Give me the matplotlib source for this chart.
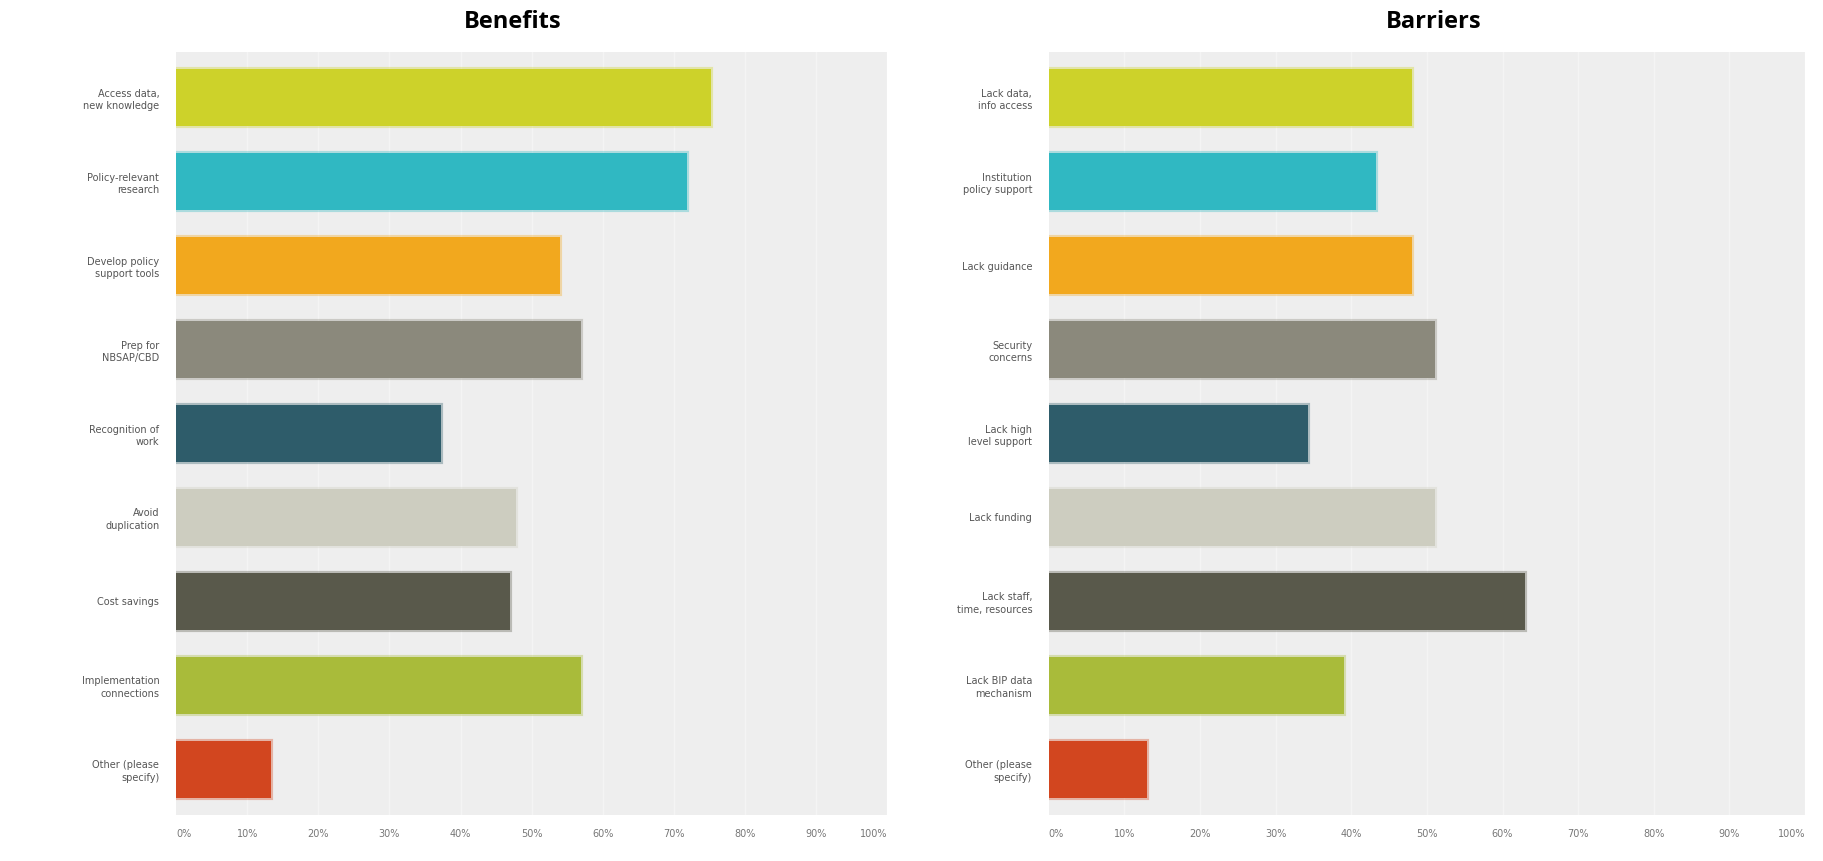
import numpy as np
import matplotlib
matplotlib.use("Agg")
import matplotlib.pyplot as plt

# values (percent of respondents)
benefit_labels = ["Access data,\nnew knowledge", "Policy-relevant\nresearch", "Develop policy\nsupport tools",
                  "Prep for\nNBSAP/CBD", "Recognition of\nwork", "Avoid\nduplication", "Cost savings",
                  "Implementation\nconnections", "Other (please\nspecify)"]
benefit_values = [75.2, 71.9, 54.0, 57.0, 37.3, 47.8, 46.9, 57.0, 13.3]

barrier_labels = ["Lack data,\ninfo access", "Institution\npolicy support", "Lack guidance",
                  "Security\nconcerns", "Lack high\nlevel support", "Lack funding",
                  "Lack staff,\ntime, resources", "Lack BIP data\nmechanism", "Other (please\nspecify)"]
barrier_values = [48.0, 43.3, 48.0, 51.1, 34.3, 51.1, 63.0, 39.1, 13.0]

bar_colors = ["#cdd22a", "#30b8c2", "#f2a81e", "#8b897c", "#2e5c6a",
              "#cdcdc0", "#59594b", "#a9bb3a", "#d2461f"]
tick_values = np.arange(0, 101, 10)
tick_labels = [f"{t}%" for t in tick_values]

fig = plt.figure(figsize=(18.24, 8.61), dpi=100)


def draw_panel(ax, labels, values, title, title_x):
    y = np.arange(len(values))
    ax.set_facecolor("#eeeeee")
    for t in tick_values[1:]:
        ax.axvline(t, color="#f4f4f4", lw=1.0, zorder=0)
    ax.barh(y, values, height=0.68, color=bar_colors, zorder=2,
            edgecolor=[matplotlib.colors.to_rgba(c, 0.35) for c in bar_colors], linewidth=3)
    ax.set_ylim(8.55, -0.55)
    ax.set_xlim(0, 99)
    ax.set_yticks(y)
    ax.set_yticklabels(labels, fontsize=7, color="#555555", linespacing=1.3)
    ax.set_xticks(tick_values)
    ax.set_xticklabels(tick_labels, fontsize=7, color="#777777")
    xl = ax.get_xticklabels()
    xl[0].set_ha("left")
    xl[-1].set_ha("right")
    ax.tick_params(length=0, pad=12)
    ax.tick_params(axis="x", pad=10)
    for s in ax.spines.values():
        s.set_visible(False)
    fig.text(title_x, 0.975, title, ha="center", va="center",
             fontsize=17, fontweight="bold", family="Open Sans")


ax1 = fig.add_axes([0.0965, 0.053, 0.39, 0.887])
draw_panel(ax1, benefit_labels, benefit_values, "Benefits", 0.281)

ax2 = fig.add_axes([0.575, 0.053, 0.4146, 0.887])
draw_panel(ax2, barrier_labels, barrier_values, "Barriers", 0.786)

fig.savefig("out.png", dpi=100)
